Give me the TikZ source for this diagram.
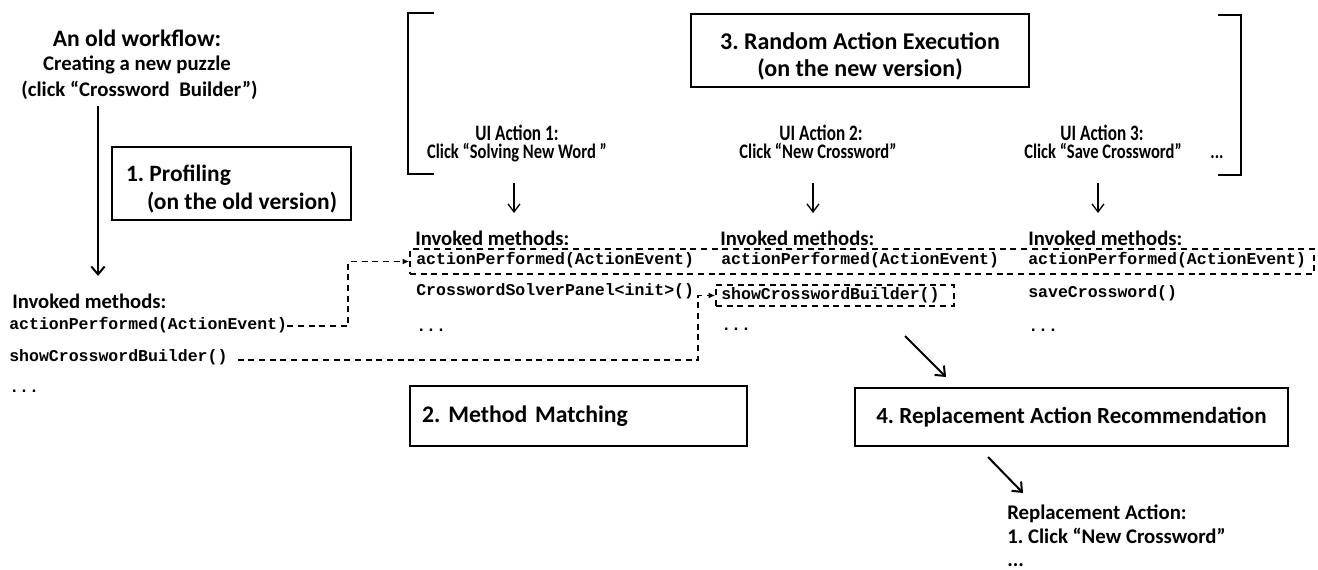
\documentclass[tikz,border=0pt]{standalone}
\usepackage{fontspec}
\setmainfont{Carlito}
\setmonofont{Liberation Mono}
\usetikzlibrary{arrows.meta,calc}
\frenchspacing
\tikzset{
  box/.style={draw, line width=2pt, rectangle, inner sep=0pt},
  dbox/.style={draw, line width=1.2pt, dash pattern=on 4.5pt off 3.5pt, rectangle, inner sep=0pt},
  mono/.style={font=\ttfamily\bfseries\fontsize{12.4pt}{14pt}\selectfont, anchor=west, inner sep=0pt, text height=1.5ex, text depth=.25ex},
  lab/.style={anchor=west, inner sep=0pt, font=\bfseries\fontsize{15.5pt}{18pt}\selectfont},
  cap/.style={inner sep=0pt, font=\bfseries\fontsize{#1}{#1}\selectfont},
  uilab/.style={inner sep=0pt, text height=9pt, text depth=1pt, font=\bfseries\fontsize{16.5pt}{16.5pt}\selectfont},
  cklab/.style={inner sep=0pt, text height=9pt, text depth=3pt, font=\bfseries\fontsize{15.5pt}{15.5pt}\selectfont},
  dconn/.style={line width=1.2pt, dash pattern=on 4.5pt off 3.5pt, -{Latex[length=5pt,width=4.5pt]}},
  arr/.style={line width=1.5pt, -{Straight Barb[length=6pt,width=10pt]}},
  uiarr/.style={line width=1pt, -{Straight Barb[length=6pt,width=9pt]}},
  bracket/.style={line width=0.9pt},
}
\begin{document}
\begin{tikzpicture}[x=0.75pt,y=-0.75pt]
\useasboundingbox (0,0) rectangle (1318,570);

% ---- left: old workflow
\node[cap=17.7pt] (wf1) at (137,38) {An old workflow:};
\node[cap=15.6pt] (wf2) at (137,65) {Creating a new puzzle};
\node[cap=15.6pt] (wf3) at (139.5,90) {(click “Crossword~ Builder”)};
\coordinate (a0s) at (98,106);
\coordinate (a0e) at (98,276);
\draw[arr] (a0s) -- (a0e);

\node[box, minimum width=179.25pt, minimum height=54.75pt, align=left,
      font=\bfseries\fontsize{17.6pt}{21pt}\selectfont] (prof) at (231.5,183.5)
      {\rule{0pt}{20.5pt}1. Profiling\\\hspace*{15.75pt}(on the old version)};

\node[lab] (inv0) at (12,301) {Invoked methods:};
\node[mono] (oldA) at (9,326) {actionPerformed(ActionEvent)};
\node[mono] (oldS) at (9,358) {showCrosswordBuilder()};
\node[mono] (dots0) at (9,389) {...};

% ---- top: random action execution
\draw[bracket] (434,13) -- (408,13) -- (408,174) -- (434,174);
\draw[bracket] (1218,15) -- (1241,15) -- (1241,175) -- (1218,175);
\node[box, minimum width=253.5pt, minimum height=54.75pt, align=center,
      font=\bfseries\fontsize{18pt}{20.25pt}\selectfont] (rae) at (860,50.5)
      {\rule{0pt}{21pt}3. Random Action Execution\\(on the new version)};

\node[uilab] (ui1) at (517,135) {\scalebox{0.78}[1]{UI Action 1:}};
\node[cklab] (ck1) at (517,155) {\scalebox{0.8}[1]{Click “Solving New Word ”}};
\node[uilab] (ui2) at (821,135) {\scalebox{0.78}[1]{UI Action 2:}};
\node[cklab] (ck2) at (818,155) {\scalebox{0.8}[1]{Click “New Crossword”}};
\node[uilab] (ui3) at (1102,135) {\scalebox{0.78}[1]{UI Action 3:}};
\node[cklab] (ck3) at (1103,155) {\scalebox{0.8}[1]{Click “Save Crossword”}};
\node[cklab] (ckd) at (1217,155) {\scalebox{0.8}[1]{...}};

\coordinate (u1s) at (514,183); \coordinate (u1e) at (514,213);
\coordinate (u2s) at (813,183); \coordinate (u2e) at (813,213);
\coordinate (u3s) at (1098,183); \coordinate (u3e) at (1098,213);
\draw[uiarr] (u1s) -- (u1e);
\draw[uiarr] (u2s) -- (u2e);
\draw[uiarr] (u3s) -- (u3e);

% ---- invoked methods columns
\node[dbox, minimum width=678pt, minimum height=18.75pt] (bigbox) at (862,261.5) {};
\node[dbox, minimum width=178.5pt, minimum height=15.75pt] (smallbox) at (835,295.5) {};

\node[lab] (inv1) at (415,238) {Invoked methods:};
\node[mono] (m1a) at (416,261) {actionPerformed(ActionEvent)};
\node[mono] (m1b) at (416,292) {CrosswordSolverPanel<init>()};
\node[mono] (m1c) at (416,328) {...};

\node[lab] (inv2) at (720,238) {Invoked methods:};
\node[mono] (m2a) at (721,261) {actionPerformed(ActionEvent)};
\node[mono] (m2b) at (721,295.5) {showCrosswordBuilder()};
\node[mono] (m2c) at (721,327) {...};

\node[lab] (inv3) at (1028,238) {Invoked methods:};
\node[mono] (m3a) at (1028,261) {actionPerformed(ActionEvent)};
\node[mono] (m3b) at (1028,294) {saveCrossword()};
\node[mono] (m3c) at (1028,328) {...};

% ---- dashed matching connectors
\draw[dconn] (oldA.east) -| ($(bigbox.west)+(-61,0)$) -- (bigbox.west);
\draw[dconn] ($(oldS.east)+(10,2)$) -| ($(smallbox.west)+(-17,0)$) -- (smallbox.west);

% ---- bottom boxes
\node[box, minimum width=252.75pt, minimum height=45pt, text width=234.75pt, align=left,
      inner xsep=9pt, font=\bfseries\fontsize{17.8pt}{20pt}\selectfont] (mm) at (578.5,416)
      {2. Method Matching};
\node[box, minimum width=324.75pt, minimum height=43.5pt,
      font=\bfseries\fontsize{17.3pt}{20pt}\selectfont] (rar) at (1071.5,417)
      {4. Replacement Action Recommendation};

\coordinate (d1s) at (905,336); \coordinate (d1e) at (946,377);
\draw[arr] (d1s) -- (d1e);
\coordinate (d2s) at (988,457); \coordinate (d2e) at (1023,493);
\draw[arr] (d2s) -- (d2e);

\node[anchor=north west, inner sep=0pt, align=left,
      font=\bfseries\fontsize{15.6pt}{17.6pt}\selectfont] (repl) at (1007,505)
      {Replacement Action:\\1. Click “New Crossword”\\...};
\end{tikzpicture}
\end{document}
